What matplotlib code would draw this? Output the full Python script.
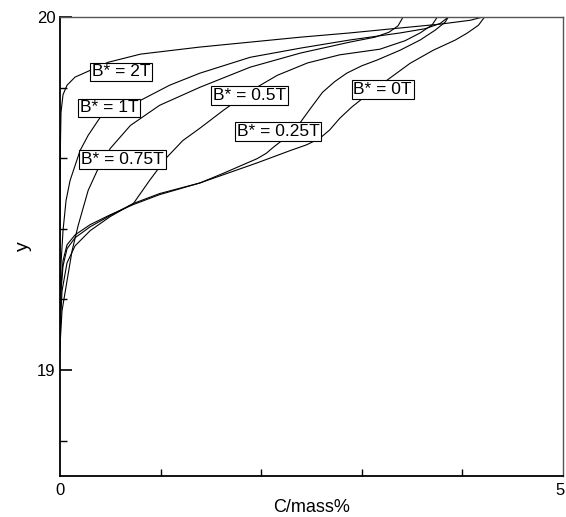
import matplotlib
matplotlib.use("Agg")
import matplotlib.pyplot as plt
import matplotlib.transforms as mtransforms

plt.rcParams['font.family'] = ['Liberation Sans', 'DejaVu Sans']

# concentration profiles, one per applied field
x_2t = [0, 0, 0.005, 0.01, 0.03, 0.07, 0.15, 0.30, 0.48, 0.80, 1.39, 1.89, 2.39, 2.88, 3.38, 3.78, 4.08, 4.20]
y_2t = [19.05, 19.50, 19.65, 19.73, 19.78, 19.807, 19.830, 19.849, 19.872, 19.895, 19.915, 19.929, 19.943, 19.955, 19.969, 19.980, 19.991, 20.0]

x_1t = [0, 0.005, 0.01, 0.03, 0.06, 0.10, 0.20, 0.28, 0.40, 0.80, 1.09, 1.39, 1.89, 2.39, 2.88, 3.38, 3.63, 3.78, 3.86]
y_1t = [19.111, 19.196, 19.301, 19.395, 19.480, 19.537, 19.622, 19.665, 19.716, 19.764, 19.807, 19.841, 19.886, 19.912, 19.935, 19.955, 19.967, 19.982, 20.0]

x_075t = [0, 0.02, 0.07, 0.12, 0.18, 0.28, 0.37, 0.50, 0.70, 0.99, 1.39, 1.89, 2.39, 2.88, 3.13, 3.27, 3.36, 3.41]
y_075t = [19.068, 19.168, 19.253, 19.338, 19.409, 19.509, 19.565, 19.628, 19.693, 19.750, 19.801, 19.858, 19.898, 19.929, 19.943, 19.957, 19.975, 20.0]

x_05t = [0, 0.02, 0.07, 0.15, 0.30, 0.50, 0.73, 0.89, 1.06, 1.22, 1.39, 1.62, 1.89, 2.16, 2.46, 2.78, 3.18, 3.43, 3.58, 3.70, 3.75]
y_05t = [19.097, 19.224, 19.304, 19.352, 19.395, 19.435, 19.472, 19.537, 19.602, 19.650, 19.685, 19.735, 19.790, 19.835, 19.870, 19.893, 19.909, 19.933, 19.955, 19.978, 20.0]

x_025t = [0, 0.01, 0.03, 0.07, 0.15, 0.30, 0.50, 0.73, 0.99, 1.39, 1.62, 1.96, 2.05, 2.12, 2.21, 2.30, 2.39, 2.50, 2.61,
          2.73, 2.85, 3.00, 3.15, 3.38, 3.58, 3.73, 3.83, 3.86]
y_025t = [19.125, 19.224, 19.295, 19.344, 19.375, 19.406, 19.438, 19.472, 19.500, 19.530, 19.557, 19.599, 19.614, 19.631, 19.651,
          19.675, 19.702, 19.745, 19.787, 19.817, 19.841, 19.862, 19.878, 19.906, 19.935, 19.963, 19.986, 20.0]

x_0t = [0, 0.01, 0.03, 0.07, 0.15, 0.30, 0.50, 0.73, 0.99, 1.39, 1.62, 1.96, 2.29, 2.45, 2.58, 2.68, 2.78, 2.90, 3.01, 3.13,
        3.25, 3.48, 3.71, 3.93, 4.05, 4.16, 4.22]
y_0t = [19.139, 19.239, 19.310, 19.355, 19.383, 19.412, 19.440, 19.469, 19.497, 19.530, 19.553, 19.587, 19.622, 19.638, 19.656, 19.680,
        19.713, 19.745, 19.770, 19.797, 19.821, 19.869, 19.906, 19.935, 19.955, 19.977, 20.0]

labels = ['B* = 2T', 'B* = 1T', 'B* = 0.75T', 'B* = 0.5T', 'B* = 0.25T', 'B* = 0T']
label_x = [0.606, 0.487, 0.621, 1.884, 2.167, 3.206]
label_y = [19.845, 19.743, 19.597, 19.778, 19.676, 19.795]

curves = [(x_2t, y_2t), (x_1t, y_1t), (x_075t, y_075t), (x_05t, y_05t), (x_025t, y_025t), (x_0t, y_0t)]

fig = plt.figure(figsize=(5.66, 5.17), dpi=100)
ax = fig.add_axes([0.106, 0.0793, 0.8887, 0.8877])

for xs, ys in curves:
    ax.plot(xs, ys, color='black', lw=0.8, zorder=2)

for txt, lx, ly in zip(labels, label_x, label_y):
    ax.text(lx, ly, txt, ha='center', va='center', fontsize=12.5, zorder=3,
            bbox=dict(boxstyle='square,pad=0.1', facecolor='white', edgecolor='black', lw=0.8))

ax.set_xlim(0, 5)
ax.set_ylim(18.7, 20)

ax.set_xticks([0, 5])
ax.set_xticks([1, 2, 3, 4], minor=True)
ax.set_yticks([19, 20])
ax.set_yticks([18.8, 19.2, 19.4, 19.6, 19.8], minor=True)
ax.tick_params(which='major', direction='in', length=8.5, width=1.2, labelsize=12, pad=3)
ax.tick_params(which='minor', direction='in', length=5, width=1)
ax.tick_params(axis='x', which='major', length=0, pad=5)

# keep the "5" inside the canvas
fig.canvas.draw()
last = ax.get_xticklabels()[-1]
last.set_transform(last.get_transform() + mtransforms.ScaledTranslation(-3 / 100, 0, fig.dpi_scale_trans))

for side in ['left', 'bottom']:
    ax.spines[side].set_linewidth(1.3)
    ax.spines[side].set_color('black')
for side in ['top', 'right']:
    ax.spines[side].set_linewidth(1.0)
    ax.spines[side].set_color('#555555')

ax.set_xlabel('C/mass%', fontsize=13, labelpad=1)
ax.set_ylabel('y', fontsize=14, labelpad=4)

fig.savefig('out.png', dpi=100)
